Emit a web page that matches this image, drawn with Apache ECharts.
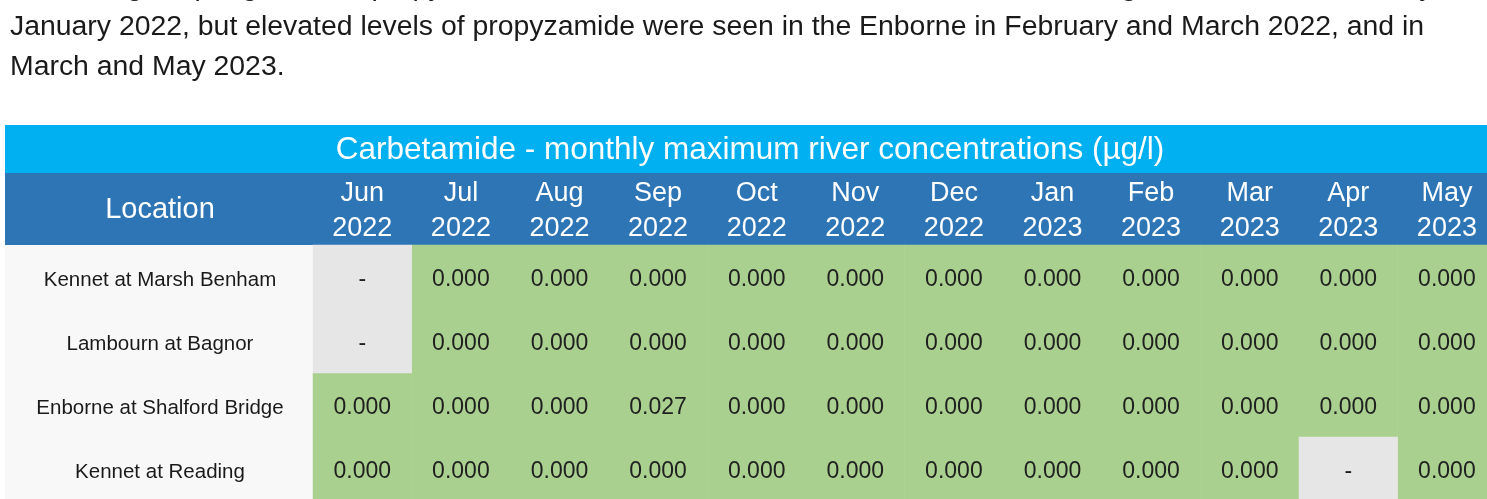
<!DOCTYPE html>
<html>
<head>
<meta charset="utf-8">
<script src="https://cdn.jsdelivr.net/npm/echarts@6/dist/echarts.min.js"></script>
<style>
  html, body { margin: 0; padding: 0; background: #fff; }
  #chart { width: 1487px; height: 499px; }
</style>
</head>
<body>
<div id="chart"></div>
<script>
const months = ['Jun\n2022', 'Jul\n2022', 'Aug\n2022', 'Sep\n2022', 'Oct\n2022', 'Nov\n2022',
  'Dec\n2022', 'Jan\n2023', 'Feb\n2023', 'Mar\n2023', 'Apr\n2023', 'May\n2023'];
const locations = ['Kennet at Marsh Benham', 'Lambourn at Bagnor', 'Enborne at Shalford Bridge', 'Kennet at Reading'];

// null = no sample ("-")
const kennetMarsh = [null, 0, 0, 0, 0, 0, 0, 0, 0, 0, 0, 0];
const lambourn = [null, 0, 0, 0, 0, 0, 0, 0, 0, 0, 0, 0];
const enborne = [0, 0, 0, 0.027, 0, 0, 0, 0, 0, 0, 0, 0];
const kennetReading = [0, 0, 0, 0, 0, 0, 0, 0, 0, 0, null, 0];
const rows = [kennetMarsh, lambourn, enborne, kennetReading];

const measured = [];
const missing = [];
rows.forEach((row, y) => {
  row.forEach((v, x) => {
    if (v === null) missing.push([x, y, 0]);
    else measured.push([x, y, v]);
  });
});

const gridLeft = 313;
const font = 'Liberation Sans';
const paraFont = '28.4px "Liberation Sans"';

const chart = echarts.init(document.getElementById('chart'));
const option = {
  animation: false,
  grid: { left: gridLeft, top: 245, width: 98.6 * months.length, height: 256, outerBoundsMode: 'none' },
  xAxis: {
    type: 'category',
    data: months,
    position: 'top',
    axisLine: { show: false },
    axisTick: { show: false },
    splitLine: { show: false },
    axisLabel: {
      color: '#fff',
      fontSize: 27,
      lineHeight: 35,
      margin: -1,
      interval: 0,
      fontFamily: font
    }
  },
  yAxis: {
    type: 'category',
    data: locations,
    inverse: true,
    axisLine: { show: false },
    axisTick: { show: false },
    splitLine: { show: false },
    axisLabel: {
      align: 'center',
      margin: gridLeft - 160,
      formatter: v => '{loc|' + v + '}',
      rich: {
        loc: { color: '#1a1a1a', fontSize: 20.5, fontFamily: font, padding: [6, 0, 0, 0] }
      }
    }
  },
  graphic: [
    { type: 'text', x: 10, y: -13, z: 10,
      style: { text: 'Monitoring in spring showed propyzamide in the Kennet and Lambourn rivers, with the highest river levels in early',
        fill: '#1a1a1a', font: paraFont, verticalAlign: 'middle' } },
    { type: 'text', x: 10, y: 27, z: 10,
      style: { text: 'January 2022, but elevated levels of propyzamide were seen in the Enborne in February and March 2022, and in',
        fill: '#1a1a1a', font: paraFont, verticalAlign: 'middle' } },
    { type: 'text', x: 10, y: 67, z: 10,
      style: { text: 'March and May 2023.', fill: '#1a1a1a', font: paraFont, verticalAlign: 'middle' } },
    { type: 'rect', shape: { x: 5, y: 125, width: 1490, height: 48 }, style: { fill: '#00b0f0' }, z: -1 },
    { type: 'rect', shape: { x: 5, y: 173, width: 1490, height: 72 }, style: { fill: '#2e75b6' }, z: -1 },
    { type: 'rect', shape: { x: 5, y: 245, width: gridLeft - 5, height: 260 }, style: { fill: '#f8f8f8' }, z: -1 },
    { type: 'text', x: 750, y: 150, z: 10,
      style: { text: 'Carbetamide - monthly maximum river concentrations (µg/l)', fill: '#fff',
        font: '31.5px "Liberation Sans"', align: 'center', verticalAlign: 'middle' } },
    { type: 'text', x: 160, y: 210, z: 10,
      style: { text: 'Location', fill: '#fff', font: '29px "Liberation Sans"', align: 'center', verticalAlign: 'middle' } }
  ],
  series: [
    {
      name: 'Measured',
      type: 'heatmap',
      data: measured,
      itemStyle: { color: '#a9d08e' },
      label: {
        show: true,
        color: '#1f1f1f',
        fontSize: 23,
        fontFamily: font,
        offset: [0, 3],
        formatter: p => p.value[2].toFixed(3)
      },
      emphasis: { disabled: true }
    },
    {
      name: 'No sample',
      type: 'heatmap',
      data: missing,
      itemStyle: { color: '#e6e6e6' },
      label: {
        show: true,
        color: '#1f1f1f',
        fontSize: 23,
        fontFamily: font,
        offset: [0, 3],
        formatter: () => '-'
      },
      emphasis: { disabled: true }
    }
  ]
};
chart.setOption(option);
</script>
</body>
</html>
